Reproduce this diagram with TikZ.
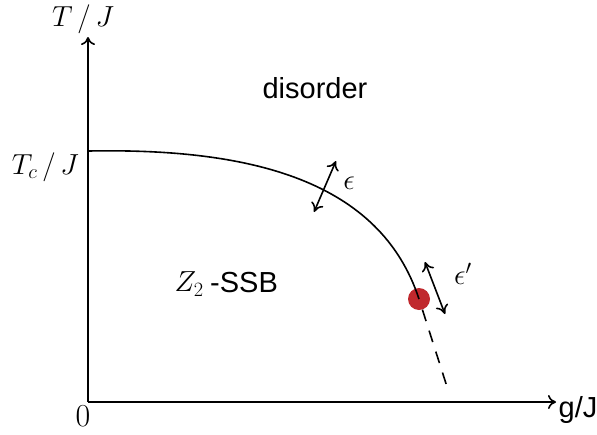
\documentclass[tikz,border=0pt]{standalone}
\usepackage{fix-cm}
\usepackage{fontspec}
\setsansfont{Liberation Sans}
\usetikzlibrary{arrows.meta}
\definecolor{dotred}{HTML}{C0282D}
\begin{document}
\begin{tikzpicture}[x=1pt,y=-1pt,
  axis/.style={line width=1.6pt,-{To[length=8pt,width=14pt,line width=1.6pt]}},
  pert/.style={line width=1.6pt,{To[length=9pt,width=13pt,line width=1.6pt]}-{To[length=9pt,width=13pt,line width=1.6pt]}},
  lab/.style={inner sep=0pt,font=\fontsize{29}{33}\selectfont},
  slab/.style={inner sep=0pt,font=\sffamily\fontsize{29}{33}\selectfont}]
\useasboundingbox (0,0) rectangle (597,434);
\coordinate (o) at (88,402);
\coordinate (ytip) at (88,37);
\coordinate (xtip) at (556,402);
\coordinate (tc) at (89,151);
\coordinate (dashend) at (449,393);
\draw[axis] (o) -- (ytip);
\draw[axis] (o) -- (xtip);
\node[circle,fill=dotred,minimum size=22pt,inner sep=0pt] (dot) at (419,299) {};
\draw[line width=1.6pt] (tc) .. controls (250,148) and (380,180) .. (dot.center);
\draw[line width=1.6pt,dash pattern=on 12pt off 10pt] (dot) -- (dashend);
\coordinate (e1a) at (314,212);
\coordinate (e1b) at (336,161);
\draw[pert] (e1a) -- (e1b);
\coordinate (e2a) at (425,262);
\coordinate (e2b) at (445,314);
\draw[pert] (e2a) -- (e2b);
\node[lab] (eps) at (349,183) {$\epsilon$};
\node[lab] (epsp) at (463,274) {$\epsilon'$};
\node[lab] (tj) at (83,19) {$T\,/\,J$};
\node[lab,anchor=east] (tcj) at (79,167) {$T_c\,/\,J$};
\node[lab,font=\fontsize{32}{36}\selectfont] (zero) at (83,416) {$0$};
\node[slab] (gj) at (578,410) {g/J};
\node[slab] (dis) at (315,88) {disorder};
\node[lab,anchor=east] (z2) at (204,284) {$Z_2$};
\node[slab,anchor=west] (ssb) at (210,283) {-SSB};
\end{tikzpicture}
\end{document}
